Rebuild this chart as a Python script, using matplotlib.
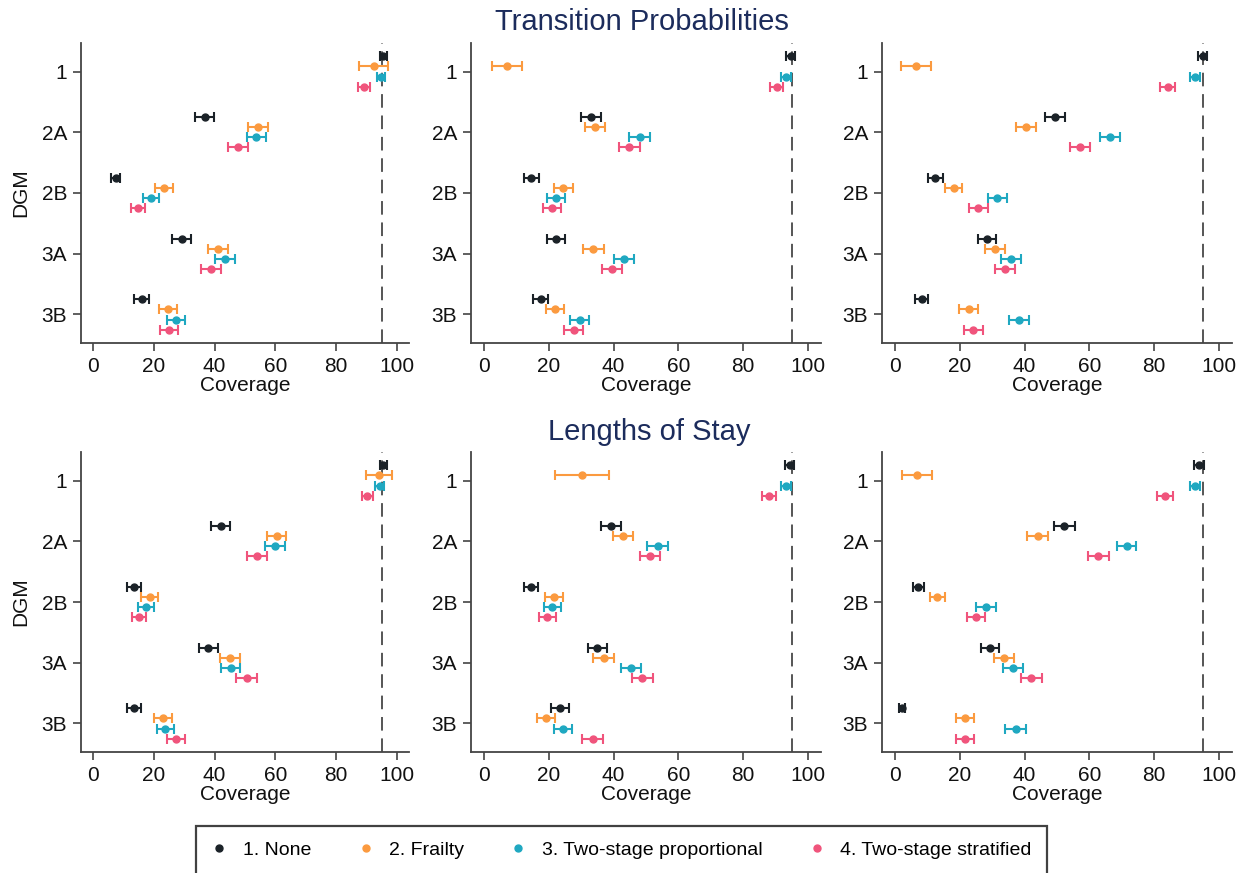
import numpy as np
import matplotlib
matplotlib.use("Agg")
import matplotlib.pyplot as plt
from matplotlib.lines import Line2D

plt.rcParams['font.family'] = ['Liberation Sans', 'DejaVu Sans']

dgm = ["1", "2A", "2B", "3A", "3B"]
methods = ["1. None", "2. Frailty", "3. Two-stage proportional", "4. Two-stage stratified"]
colors = ["#1b2228", "#fb9a3f", "#1fa8c1", "#f0547c"]

# coverage estimates: rows = DGM, cols = method
tp1_est = [[95.6, 92.4, 94.7, 89.3],
           [36.7, 54.3, 53.7, 47.7],
           [7.4, 23.3, 19.1, 14.7],
           [29.1, 41.1, 43.4, 38.8],
           [16.0, 24.6, 27.3, 25.1]]
tp1_hw = [[1.3, 4.8, 1.4, 2.0],
          [3.1, 3.2, 3.1, 3.2],
          [1.6, 3.0, 2.6, 2.3],
          [3.0, 3.2, 3.2, 3.2],
          [2.4, 3.0, 3.0, 3.0]]

tp2_est = [[94.6, 7.0, 93.3, 90.4],
           [33.0, 34.3, 48.1, 44.9],
           [14.6, 24.5, 22.3, 21.0],
           [22.3, 33.8, 43.2, 39.6],
           [17.5, 21.8, 29.5, 27.7]]
tp2_hw = [[1.4, 4.6, 1.5, 2.0],
          [3.0, 3.0, 3.2, 3.2],
          [2.3, 2.9, 2.7, 2.7],
          [2.7, 3.1, 3.1, 3.1],
          [2.4, 2.8, 3.0, 3.0]]

tp3_est = [[94.9, 6.5, 92.6, 84.1],
           [49.3, 40.5, 66.3, 57.0],
           [12.5, 18.1, 31.6, 25.7],
           [28.5, 30.9, 35.7, 33.9],
           [8.2, 22.8, 38.2, 24.2]]
tp3_hw = [[1.4, 4.5, 1.5, 2.4],
          [3.1, 3.1, 3.1, 3.1],
          [2.2, 2.7, 3.0, 2.9],
          [2.8, 3.0, 3.1, 3.0],
          [1.9, 2.9, 3.1, 2.9]]

los1_est = [[95.6, 94.1, 94.3, 90.3],
            [42.0, 60.4, 59.9, 53.9],
            [13.3, 18.7, 17.5, 15.1],
            [37.9, 45.1, 45.3, 50.5],
            [13.6, 22.9, 23.8, 27.4]]
los1_hw = [[1.3, 4.4, 1.5, 1.9],
           [3.2, 3.2, 3.2, 3.3],
           [2.3, 2.8, 2.6, 2.4],
           [3.2, 3.3, 3.2, 3.3],
           [2.3, 2.9, 2.8, 3.0]]

los2_est = [[94.3, 30.3, 93.3, 88.0],
            [39.1, 42.9, 53.6, 51.2],
            [14.5, 21.6, 21.1, 19.5],
            [35.0, 36.9, 45.4, 48.9],
            [23.4, 19.2, 24.4, 33.5]]
los2_hw = [[1.4, 8.3, 1.5, 2.2],
           [3.1, 3.2, 3.2, 3.2],
           [2.3, 2.8, 2.7, 2.6],
           [3.0, 3.1, 3.2, 3.2],
           [2.8, 2.7, 2.9, 3.1]]

los3_est = [[93.9, 6.7, 92.5, 83.4],
            [52.3, 44.0, 71.5, 62.8],
            [7.2, 13.1, 28.1, 24.9],
            [29.3, 33.7, 36.5, 42.1],
            [2.1, 21.5, 37.2, 21.5]]
los3_hw = [[1.5, 4.6, 1.6, 2.4],
           [3.2, 3.3, 3.0, 3.1],
           [1.7, 2.4, 3.0, 2.8],
           [2.9, 3.1, 3.1, 3.2],
           [1.0, 2.8, 3.1, 2.8]]

panels = [(tp1_est, tp1_hw), (tp2_est, tp2_hw), (tp3_est, tp3_hw),
          (los1_est, los1_hw), (los2_est, los2_hw), (los3_est, los3_hw)]

W, H = 1243, 873
fig = plt.figure(figsize=(W / 100, H / 100), dpi=100)

col_left = [81, 471, 882]
col_width = [328, 350, 350]
row_bottom = [343, 752]
ax_h = 300
offsets = [-0.25, -0.085, 0.085, 0.25]
ypos = np.arange(1, 6)

for i, (est, hw) in enumerate(panels):
    r, c = divmod(i, 3)
    ax = fig.add_axes([col_left[c] / W, (H - row_bottom[r]) / H,
                       col_width[c] / W, ax_h / H])
    est = np.array(est)
    hw = np.array(hw)
    ax.axvline(95, color="#555555", lw=1.4, ls=(0, (7, 4)), zorder=1)
    for m in range(4):
        ax.errorbar(est[:, m], ypos + offsets[m], xerr=hw[:, m], fmt="o",
                    color=colors[m], ms=5, lw=1.5, capsize=3.3, capthick=1.5,
                    zorder=3)
    ax.set_xlim(-4, 104)
    ax.set_ylim(5.47, 0.53)
    ax.set_xticks([0, 20, 40, 60, 80, 100])
    ax.set_yticks(ypos)
    ax.set_yticklabels(dgm)
    ax.spines["top"].set_visible(False)
    ax.spines["right"].set_visible(False)
    for s in ["left", "bottom"]:
        ax.spines[s].set_color("#444444")
        ax.spines[s].set_linewidth(1.3)
    ax.tick_params(axis="both", labelsize=15, length=6, width=1.2,
                   color="#444444", labelcolor="#111111", pad=4)
    ax.set_xlabel("Coverage", fontsize=15, labelpad=0, color="#111111")
    if c == 0:
        ax.set_ylabel("DGM", fontsize=15, labelpad=8, color="#111111")

fig.text(642 / W, 1 - 22 / H, "Transition Probabilities", ha="center", va="center",
         fontsize=21, color="#1c2c5c")
fig.text(649 / W, 1 - 432 / H, "Lengths of Stay", ha="center", va="center",
         fontsize=21, color="#1c2c5c")

handles = [Line2D([], [], ls="none", marker="o", ms=5, color=col) for col in colors]
leg = fig.legend(handles, methods, loc="upper center", bbox_to_anchor=(0.5, 47 / H),
                 ncol=4, fontsize=14, frameon=True, fancybox=False,
                 handlelength=0.8, handletextpad=0.8, columnspacing=2.4,
                 borderpad=0.8, borderaxespad=0)
leg.get_frame().set_edgecolor("#111111")
leg.get_frame().set_linewidth(1.6)

fig.savefig("out.png", dpi=100)
